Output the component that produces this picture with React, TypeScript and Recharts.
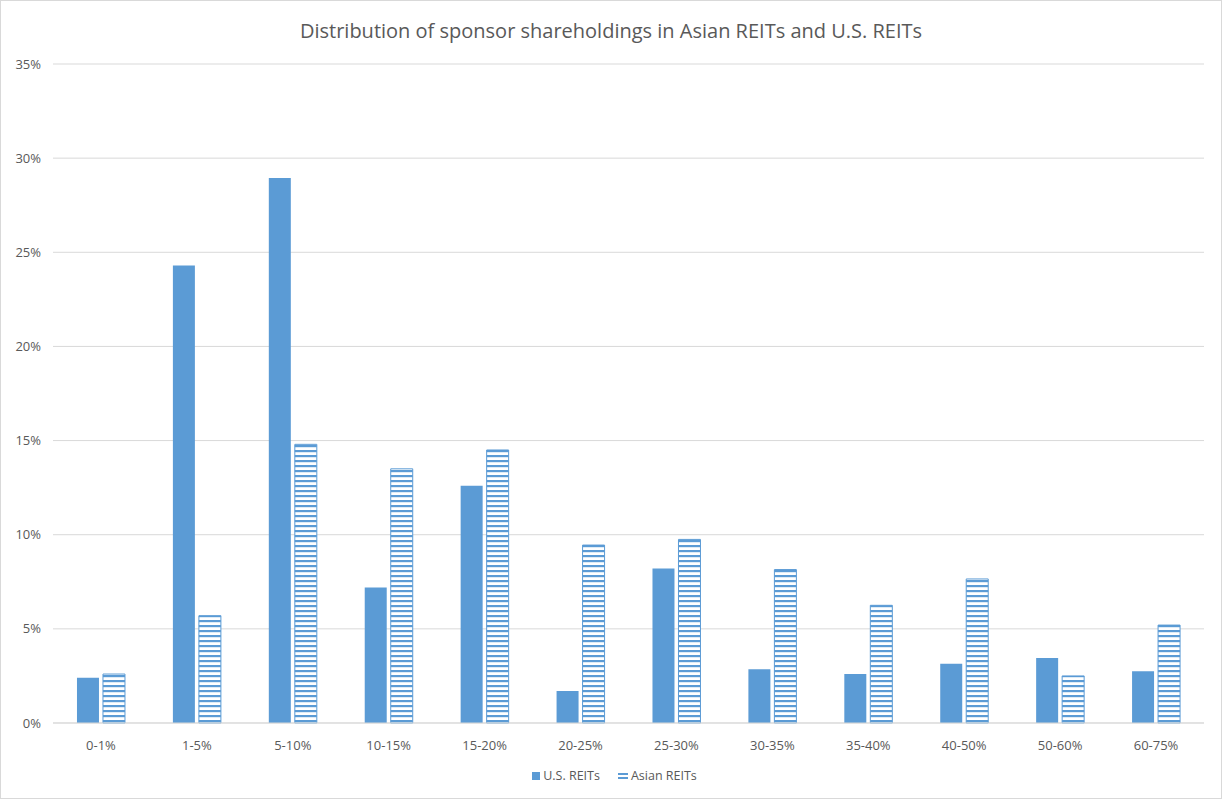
import React from 'react';
import { BarChart, Bar, XAxis, YAxis, CartesianGrid, Legend } from 'recharts';

const categories = ['0-1%', '1-5%', '5-10%', '10-15%', '15-20%', '20-25%', '25-30%', '30-35%', '35-40%', '40-50%', '50-60%', '60-75%'];
const usReits = [2.4, 24.3, 28.95, 7.2, 12.6, 1.7, 8.2, 2.85, 2.6, 3.15, 3.45, 2.75];
const asianReits = [2.6, 5.7, 14.8, 13.5, 14.5, 9.45, 9.75, 8.15, 6.25, 7.65, 2.5, 5.2];
const yTicks = [0, 5, 10, 15, 20, 25, 30, 35];

const data = categories.map((c, i) => ({ name: c, us: usReits[i], asian: asianReits[i] }));

const BLUE = '#5B9BD5';
const TEXT = '#595959';
const FONT = '"Open Sans", "Liberation Sans", sans-serif';

const LegendContent = () => (
  <div style={{ display: 'flex', justifyContent: 'center', gap: 18, paddingLeft: 24, fontFamily: FONT, fontSize: 12.5, color: TEXT }}>
    <div style={{ display: 'flex', alignItems: 'center', gap: 3 }}>
      <svg width={8} height={8}><rect width={8} height={8} fill={BLUE} /></svg>
      <span>U.S. REITs</span>
    </div>
    <div style={{ display: 'flex', alignItems: 'center', gap: 3 }}>
      <svg width={10} height={8}>
        <rect x={0} y={1} width={10} height={2} fill={BLUE} />
        <rect x={0} y={5} width={10} height={2} fill={BLUE} />
      </svg>
      <span>Asian REITs</span>
    </div>
  </div>
);

export default function App() {
  return (
    <div style={{ position: 'absolute', left: 0, top: 0, width: 1222, height: 799, background: '#fff', boxSizing: 'border-box', border: '1px solid #d9d9d9' }}>
      <div style={{ position: 'absolute', left: 0, right: 0, top: 16, textAlign: 'center', fontFamily: FONT, fontSize: 20, color: TEXT }}>
        Distribution of sponsor shareholdings in Asian REITs and U.S. REITs
      </div>
      <div style={{ position: 'absolute', left: 0, top: -1 }}>
        <BarChart width={1222} height={799} data={data} margin={{ top: 64, right: 19, bottom: 8, left: 0 }} barCategoryGap="25%" barGap={4}>
          <defs>
            <pattern id="hstripes" x={0} y={0} width={8} height={5} patternUnits="userSpaceOnUse">
              <rect x={0} y={0} width={8} height={5} fill="#ffffff" />
              <rect x={0} y={0} width={8} height={2.2} fill={BLUE} />
            </pattern>
          </defs>
          <CartesianGrid vertical={false} stroke="#d9d9d9" />
          <XAxis dataKey="name" axisLine={{ stroke: '#d9d9d9' }} tickLine={false} height={44} tickMargin={12} tick={{ fill: TEXT, fontSize: 13, fontFamily: FONT }} />
          <YAxis width={52} domain={[0, 35]} ticks={yTicks} axisLine={false} tickLine={false} tickMargin={6} tickFormatter={(v: number) => `${v}%`} tick={{ fill: TEXT, fontSize: 13, fontFamily: FONT }} />
          <Legend verticalAlign="bottom" height={24} content={<LegendContent />} />
          <Bar dataKey="us" name="U.S. REITs" fill={BLUE} isAnimationActive={false} />
          <Bar dataKey="asian" name="Asian REITs" fill="url(#hstripes)" stroke={BLUE} strokeWidth={1} isAnimationActive={false} />
        </BarChart>
      </div>
    </div>
  );
}
